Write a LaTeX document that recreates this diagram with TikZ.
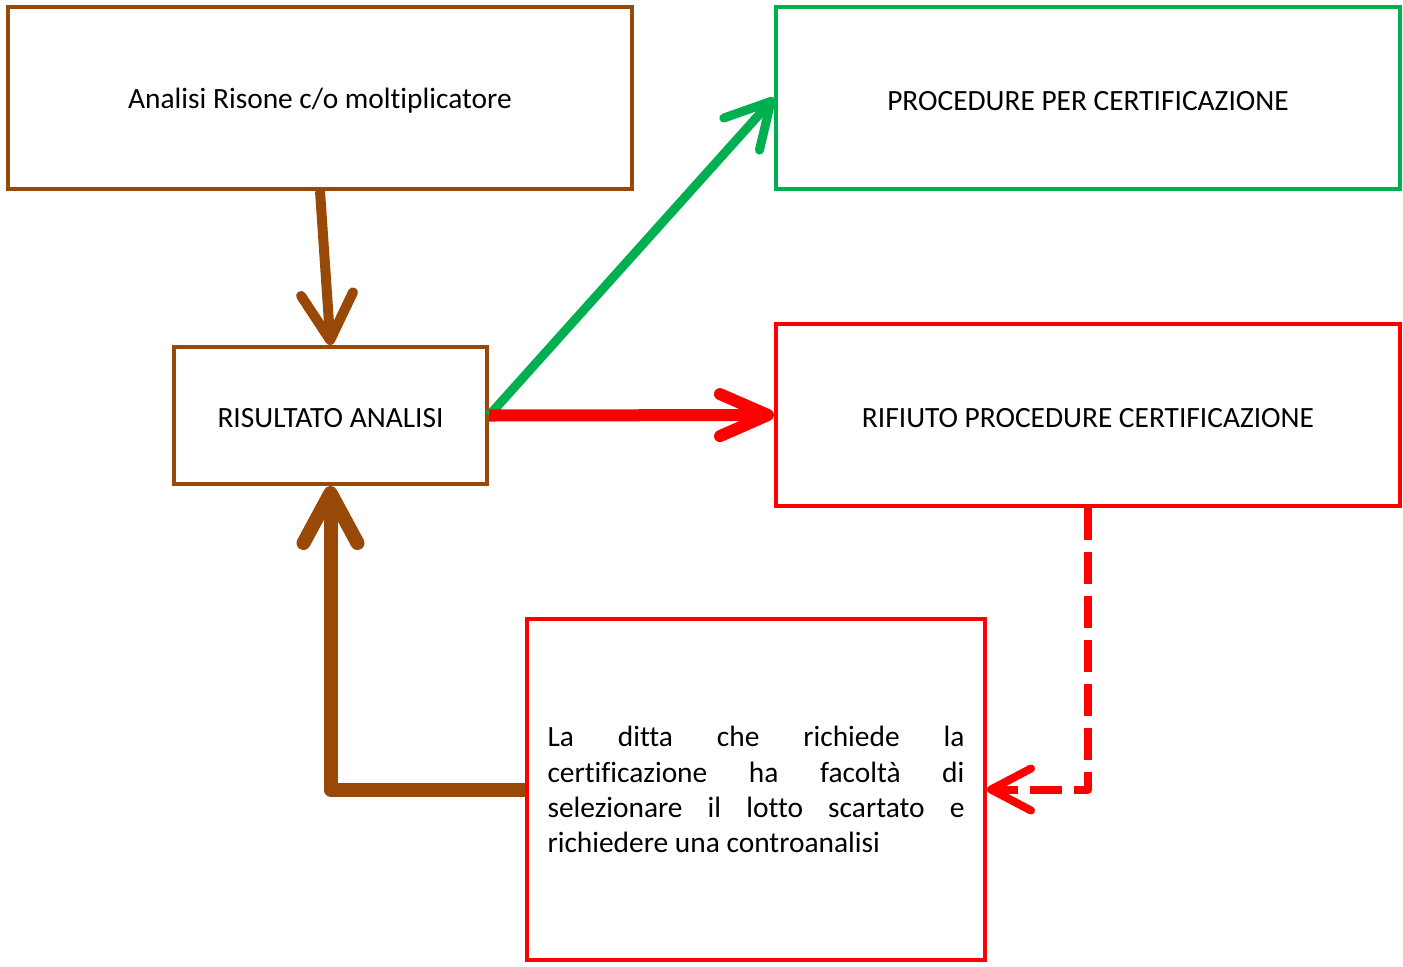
\documentclass[tikz,border=0pt]{standalone}
\usepackage{fontspec}
\setmainfont{Carlito}[Ligatures=NoCommon]
\usetikzlibrary{arrows.meta}
\definecolor{brn}{HTML}{984807}
\definecolor{grn}{HTML}{00B050}
\definecolor{rd}{HTML}{FF0000}
\newcommand{\lowtxt}[1]{\raisebox{-1.5pt}[\height][\depth]{#1}}
\begin{document}
\begin{tikzpicture}[x=0.5pt,y=-0.5pt,
  box/.style={draw,line width=2pt,minimum width=312pt,minimum height=91pt,inner sep=0pt,font=\fontsize{14.7pt}{17.6pt}\selectfont},
]
\useasboundingbox (0,0) rectangle (1403,966);
\node[box,draw=brn] (a) at (320,98) {\lowtxt{Analisi Risone c/o moltiplicatore}};
\node[box,draw=grn] (g) at (1088,98) {\lowtxt{PROCEDURE PER CERTIFICAZIONE}};
\node[box,draw=brn,minimum width=156.5pt,minimum height=68.5pt] (r) at (330.5,415.5) {\lowtxt{RISULTATO ANALISI}};
\node[box,draw=rd] (rf) at (1088,415) {\lowtxt{RIFIUTO PROCEDURE CERTIFICAZIONE}};
\node[box,draw=rd,minimum width=229pt,minimum height=170.5pt,text width=208.5pt,inner xsep=10.25pt,align=justify] (bt) at (756,789.5)
 {\hyphenpenalty=10000 La ditta che richiede la\linebreak certificazione ha facoltà di\linebreak selezionare il lotto scartato e\linebreak richiedere una controanalisi};
\draw[brn,line width=5pt,-{Straight Barb[round,length=23pt,width=26pt]}] (a.south) -- (r.north);
\draw[grn,line width=4.5pt,-{Straight Barb[round,length=22pt,width=24pt]}] (r.east) -- (g.west);
\draw[rd,line width=6pt,-{Straight Barb[round,length=24pt,width=21pt]}] (r.east) -- (rf.west);
\draw[rd,line width=4pt,line join=round,dash pattern=on 16pt off 6pt,-{Straight Barb[round,length=20pt,width=21pt]}] (rf.south) |- (bt.east);
\draw[brn,line width=7pt,line join=round,-{Straight Barb[round,length=25pt,width=27pt]}] (bt.west) -| (r.south);
\end{tikzpicture}
\end{document}
